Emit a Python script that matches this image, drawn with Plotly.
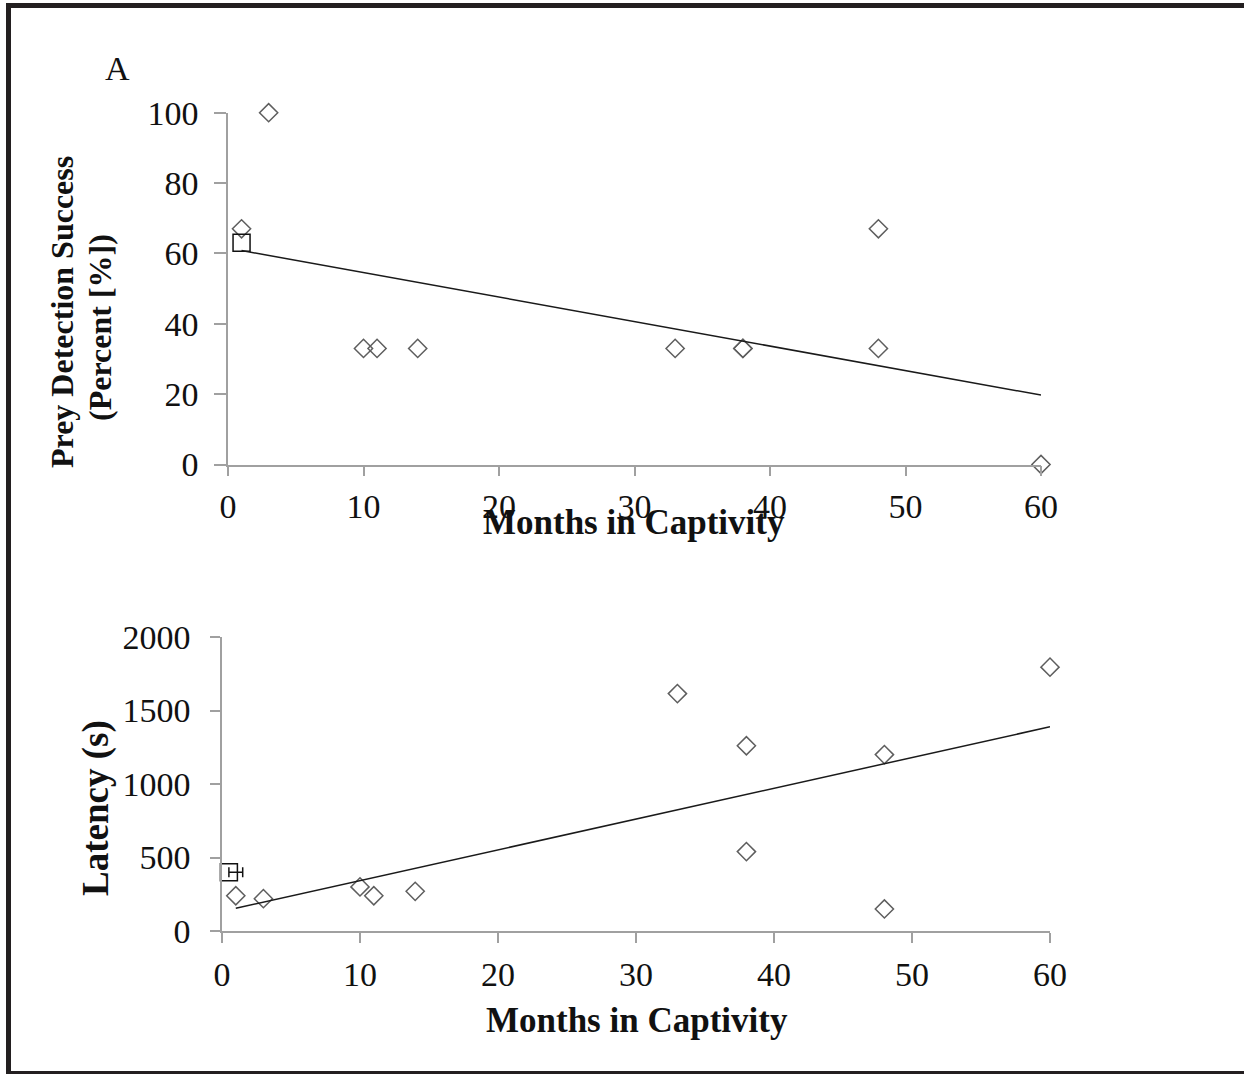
import numpy as np
import plotly.graph_objects as go

# ---------------- data ----------------
months_a = [1, 3, 10, 11, 14, 33, 38, 38, 48, 48, 60]
success_a = [67, 100, 33, 33, 33, 33, 33, 33, 67, 33, 0]
wild_month_a = [1]
wild_success_a = [63]

months_b = [1, 3, 10, 11, 14, 33, 38, 38, 48, 48, 60]
latency_b = [240, 220, 300, 240, 270, 1615, 1260, 540, 1200, 150, 1795]
wild_month_b = [0.5]
wild_latency_b = [400]
wild_latency_err_plus = [1]
wild_latency_err_minus = [0]

x_ticks = [0, 10, 20, 30, 40, 50, 60]
y_ticks_a = [0, 20, 40, 60, 80, 100]
y_ticks_b = [0, 500, 1000, 1500, 2000]

# ---------------- geometry helpers ----------------
W, H = 1244, 1074
def px(x):
    return x / W
def py(y):
    return 1 - y / H

FONT = "Liberation Serif"
AXIS_COL = "#a0a0a0"
DIAM_COL = "#5e5e5e"

fig = go.Figure()

def trend(xs, ys):
    k, b = np.polyfit(xs, ys, 1)
    xx = np.array([min(xs), max(xs)], dtype=float)
    return xx, k * xx + b

# panel A
fig.add_trace(go.Scatter(x=months_a, y=success_a, mode="markers", xaxis="x", yaxis="y",
                         marker=dict(symbol="diamond-open", size=14, color=DIAM_COL,
                                     line=dict(width=1.5, color=DIAM_COL)),
                         cliponaxis=False, showlegend=False))
fig.add_trace(go.Scatter(x=wild_month_a, y=wild_success_a, mode="markers", xaxis="x", yaxis="y",
                         marker=dict(symbol="square-open", size=17, color="#111111",
                                     line=dict(width=1.5, color="#111111")),
                         cliponaxis=False, showlegend=False))
tx, ty = trend(months_a, success_a)
fig.add_trace(go.Scatter(x=tx, y=ty, mode="lines", xaxis="x", yaxis="y",
                         line=dict(color="#1a1a1a", width=1.5), cliponaxis=False, showlegend=False))

# panel B
fig.add_trace(go.Scatter(x=months_b, y=latency_b, mode="markers", xaxis="x2", yaxis="y2",
                         marker=dict(symbol="diamond-open", size=14, color=DIAM_COL,
                                     line=dict(width=1.5, color=DIAM_COL)),
                         cliponaxis=False, showlegend=False))
fig.add_trace(go.Scatter(x=wild_month_b, y=wild_latency_b, mode="markers", xaxis="x2", yaxis="y2",
                         marker=dict(symbol="square-open", size=17, color="#111111",
                                     line=dict(width=1.5, color="#111111")),
                         error_x=dict(type="data", symmetric=False, array=wild_latency_err_plus,
                                      arrayminus=wild_latency_err_minus, color="#111111",
                                      thickness=1.5, width=5),
                         cliponaxis=False, showlegend=False))
tx2, ty2 = trend(months_b, latency_b)
fig.add_trace(go.Scatter(x=tx2, y=ty2, mode="lines", xaxis="x2", yaxis="y2",
                         line=dict(color="#1a1a1a", width=1.5), cliponaxis=False, showlegend=False))

tickfont = dict(family=FONT, size=34, color="#111111")
common = dict(showgrid=False, zeroline=False, showline=True, linecolor=AXIS_COL, linewidth=1.5,
              ticks="outside", tickcolor=AXIS_COL, tickwidth=1.5,
              tickfont=tickfont, fixedrange=True, automargin=False)

fig.update_layout(
    template="none",
    width=W, height=H,
    margin=dict(l=0, r=0, t=0, b=0, pad=0),
    paper_bgcolor="white", plot_bgcolor="white",
    xaxis=dict(domain=[px(228), px(1041)], range=[0, 60], tickvals=x_ticks, anchor="y",
               ticklen=10, ticklabelstandoff=1, **common),
    yaxis=dict(domain=[py(464.5), py(112.7)], range=[0, 100], tickvals=y_ticks_a, anchor="x",
               ticklen=12, ticklabelstandoff=9, **common),
    xaxis2=dict(domain=[px(222), px(1050)], range=[0, 60], tickvals=x_ticks, anchor="y2",
                ticklen=10, ticklabelstandoff=2, **common),
    yaxis2=dict(domain=[py(931), py(637)], range=[0, 2000], tickvals=y_ticks_b, anchor="x2",
                ticklen=10, ticklabelstandoff=13, **common),
)

def ann(text, x, y, size, bold=False, angle=0):
    fig.add_annotation(text=("<b>%s</b>" % text) if bold else text,
                       x=px(x), y=py(y), xref="paper", yref="paper",
                       xanchor="center", yanchor="middle", showarrow=False, textangle=angle,
                       font=dict(family=FONT, size=size, color="#111111"))

ann("A", 117, 68, 34)
ann("Months in Captivity", 634, 522, 35, bold=True)
ann("Months in Captivity", 637, 1020, 35, bold=True)
ann("Prey Detection Success", 62, 312, 32, bold=True, angle=-90)
ann("(Percent [%])", 100, 328, 32, bold=True, angle=-90)
ann("Latency (s)", 96, 808, 37, bold=True, angle=-90)

# frame
frame_col = "#231f20"
fig.add_shape(type="rect", xref="paper", yref="paper", x0=px(6), x1=px(11), y0=py(1074), y1=py(3),
              fillcolor=frame_col, line=dict(width=0))
fig.add_shape(type="rect", xref="paper", yref="paper", x0=px(6), x1=px(1244), y0=py(8), y1=py(3),
              fillcolor=frame_col, line=dict(width=0))
fig.add_shape(type="rect", xref="paper", yref="paper", x0=px(6), x1=px(1244), y0=py(1074), y1=py(1071),
              fillcolor=frame_col, line=dict(width=0))

fig.write_html("out.html", config={"displayModeBar": False},
               post_script="document.body.style.margin='0';document.body.style.padding='0';"
                           "document.body.style.overflow='hidden';")
